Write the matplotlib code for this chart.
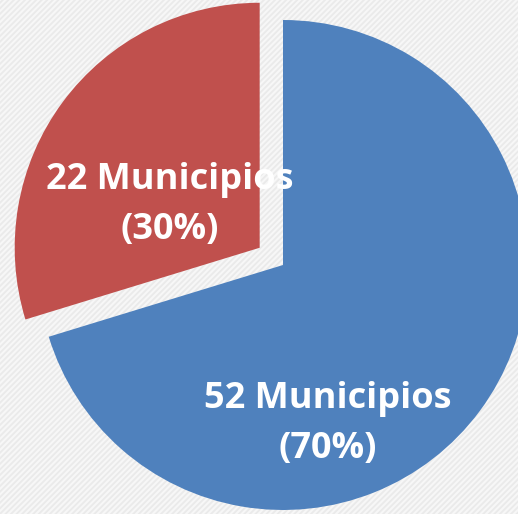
import matplotlib
matplotlib.use('agg')
import matplotlib.pyplot as plt
import matplotlib.patches as mpatches

# data
labels = ['52 Municipios\n(70%)', '22 Municipios\n(30%)']
values = [52, 22]
colors = ['#4F81BD', '#C0504D']

W, H = 518, 514
plt.rcParams['hatch.linewidth'] = 1.5
fig = plt.figure(figsize=(W / 100, H / 100), dpi=100)
ax = fig.add_axes([0, 0, 1, 1])

# patterned light background
bg = mpatches.Rectangle((0, 0), W, H, facecolor='#eaeaea', edgecolor='#f7f7f7',
                        hatch='//////', linewidth=0, zorder=0)
ax.add_patch(bg)

cx, cy, r = 283, H - 265, 245
wedges, _ = ax.pie(values, colors=colors, startangle=90, counterclock=False,
                   explode=[0, 29], center=(cx, cy), radius=r, frame=True,
                   wedgeprops={'linewidth': 0, 'zorder': 2})
ax.set_xlim(0, W)
ax.set_ylim(0, H)
ax.set_aspect('equal')
ax.axis('off')

txt_pos = [(328, H - 424), (170, H - 205)]
for lab, (x, y) in zip(labels, txt_pos):
    ax.text(x, y, lab, ha='center', va='center', color='white', fontsize=26,
            fontweight='bold', family='Open Sans', linespacing=1.5, zorder=5)

plt.savefig('out.png', dpi=100)
